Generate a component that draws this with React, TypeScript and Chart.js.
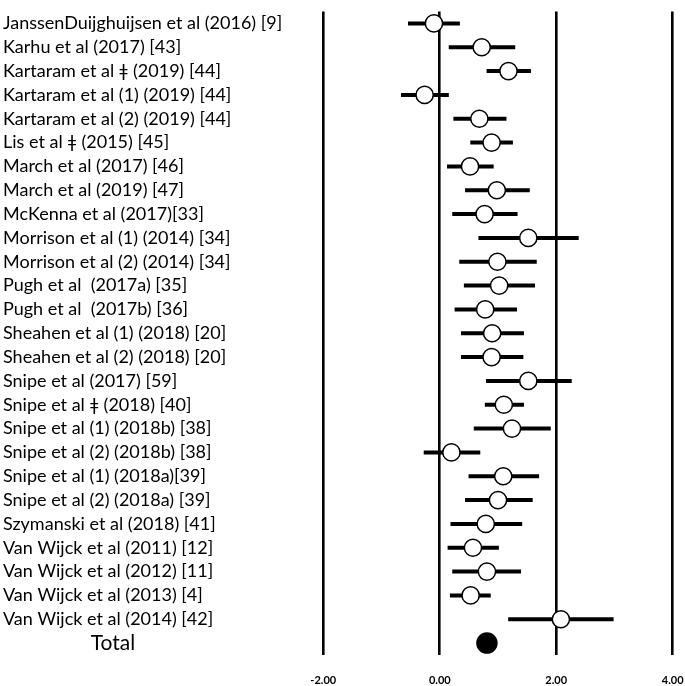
import React, { useEffect, useRef } from "react";
import { Chart, registerables } from "chart.js";

Chart.register(...registerables);

const studies: string[] = [
  "JanssenDuijghuijsen et al (2016) [9]",
  "Karhu et al (2017) [43]",
  "Kartaram et al ǂ (2019) [44]",
  "Kartaram et al (1) (2019) [44]",
  "Kartaram et al (2) (2019) [44]",
  "Lis et al ǂ (2015) [45]",
  "March et al (2017) [46]",
  "March et al (2019) [47]",
  "McKenna et al (2017)[33]",
  "Morrison et al (1) (2014) [34]",
  "Morrison et al (2) (2014) [34]",
  "Pugh et al  (2017a) [35]",
  "Pugh et al  (2017b) [36]",
  "Sheahen et al (1) (2018) [20]",
  "Sheahen et al (2) (2018) [20]",
  "Snipe et al (2017) [59]",
  "Snipe et al ǂ (2018) [40]",
  "Snipe et al (1) (2018b) [38]",
  "Snipe et al (2) (2018b) [38]",
  "Snipe et al (1) (2018a)[39]",
  "Snipe et al (2) (2018a) [39]",
  "Szymanski et al (2018) [41]",
  "Van Wijck et al (2011) [12]",
  "Van Wijck et al (2012) [11]",
  "Van Wijck et al (2013) [4]",
  "Van Wijck et al (2014) [42]",
  "Total",
];

const estimates: number[] = [
  -0.1, 0.72, 1.18, -0.26, 0.68, 0.89, 0.52, 0.98, 0.77, 1.52, 0.99, 1.02, 0.78,
  0.9, 0.89, 1.52, 1.1, 1.24, 0.2, 1.09, 1.0, 0.79, 0.57, 0.81, 0.53, 2.08, 0.81,
];

const lower: (number | null)[] = [
  -0.54, 0.16, 0.81, -0.66, 0.24, 0.53, 0.13, 0.44, 0.22, 0.67, 0.34, 0.42, 0.26,
  0.37, 0.37, 0.8, 0.78, 0.59, -0.27, 0.5, 0.44, 0.19, 0.14, 0.22, 0.18, 1.18, null,
];

const upper: (number | null)[] = [
  0.34, 1.29, 1.56, 0.15, 1.14, 1.25, 0.92, 1.54, 1.33, 2.38, 1.66, 1.63, 1.32,
  1.44, 1.43, 2.26, 1.44, 1.9, 0.69, 1.7, 1.59, 1.41, 1.01, 1.39, 0.87, 2.98, null,
];

const xTicks: number[] = [-2, 0, 2, 4];

const FONT = "Lato, 'Open Sans', sans-serif";

const totalLabelPlugin = {
  id: "totalLabel",
  afterDraw(chart: any) {
    const y = chart.scales.y.getPixelForValue(studies.length - 1);
    const ctx = chart.ctx;
    ctx.save();
    ctx.fillStyle = "#000";
    ctx.font = `21px ${FONT}`;
    ctx.textAlign = "center";
    ctx.textBaseline = "middle";
    ctx.fillText("Total", 113, y);
    ctx.restore();
  },
};

export default function App() {
  const ref = useRef<HTMLCanvasElement | null>(null);

  useEffect(() => {
    document.body.style.margin = "0";
    const canvas = ref.current;
    if (!canvas) return;
    const n = studies.length;
    const chart = new Chart(canvas, {
      type: "bar",
      data: {
        labels: studies,
        datasets: [
          {
            type: "line",
            label: "Estimate",
            data: estimates,
            indexAxis: "y",
            showLine: false,
            pointRadius: estimates.map((_, i) => (i === n - 1 ? 10 : 8.6)),
            pointBackgroundColor: estimates.map((_, i) => (i === n - 1 ? "#000" : "#fff")),
            pointBorderColor: "#000",
            pointBorderWidth: 1.5,
            order: 0,
          } as any,
          {
            type: "bar",
            label: "CI",
            data: lower.map((lo, i) => (lo === null || upper[i] === null ? null : [lo, upper[i]])) as any,
            indexAxis: "y",
            backgroundColor: "#000",
            borderWidth: 0,
            barThickness: 3.3,
            grouped: false,
            order: 1,
          } as any,
        ],
      },
      options: {
        indexAxis: "y",
        animation: false,
        responsive: true,
        maintainAspectRatio: false,
        layout: { padding: { left: 3, right: 12.3, top: 1, bottom: 0 } },
        plugins: {
          legend: { display: false },
          tooltip: { enabled: false },
        },
        scales: {
          x: {
            type: "linear",
            min: -2,
            max: 4,
            afterBuildTicks: (scale: any) => {
              scale.ticks = xTicks.map((v) => ({ value: v }));
            },
            afterFit: (scale: any) => {
              scale.height = 31;
              scale.paddingLeft = 0;
              scale.paddingRight = 0;
            },
            grid: {
              color: "#000",
              lineWidth: 2.6,
              drawTicks: false,
            },
            border: { display: false },
            ticks: {
              padding: 19,
              color: "#000",
              font: { family: FONT, size: 11, weight: "bold" },
              callback: (v: any) => Number(v).toFixed(2),
              maxRotation: 0,
            },
          },
          y: {
            type: "category",
            offset: true,
            afterFit: (scale: any) => {
              scale.width = 320.3;
              scale.paddingTop = 0;
              scale.paddingBottom = 0;
            },
            grid: { display: false, drawTicks: false },
            border: { display: false },
            ticks: {
              crossAlign: "far",
              color: "#000",
              autoSkip: false,
              font: { family: FONT, size: 18 },
              callback: (_v: any, i: number) => (i === n - 1 ? "" : studies[i]),
            },
          },
        },
      } as any,
      plugins: [totalLabelPlugin],
    });
    return () => chart.destroy();
  }, []);

  return (
    <div style={{ width: 685, height: 686, position: "relative" }}>
      <canvas ref={ref} />
    </div>
  );
}
